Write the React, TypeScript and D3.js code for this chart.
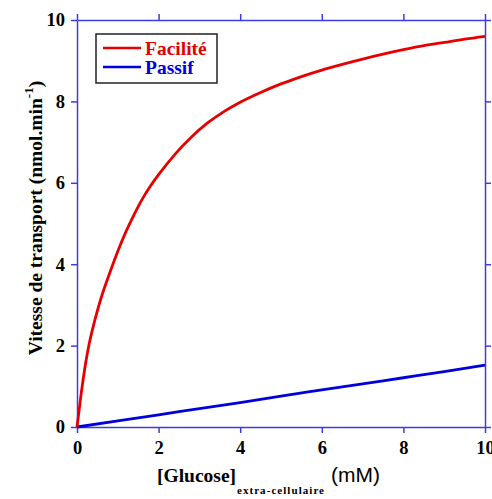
import React, { useEffect, useRef } from 'react'
import * as d3 from 'd3'

// Facilité (red) curve
const faciliteX = [0, 0.1, 0.2, 0.3, 0.4, 0.5, 0.6, 0.8, 1.0, 1.2, 1.4, 1.6, 1.8, 2.0, 2.4, 2.8, 3.2, 3.6, 4.0, 4.5, 5.0, 5.5, 6.0, 6.5, 7.0, 7.5, 8.0, 8.5, 9.0, 9.5, 10]
const faciliteY = [0, 0.8, 1.5, 2.05, 2.48, 2.86, 3.2, 3.78, 4.32, 4.8, 5.22, 5.6, 5.92, 6.2, 6.7, 7.12, 7.47, 7.75, 7.98, 8.22, 8.43, 8.61, 8.77, 8.91, 9.04, 9.16, 9.27, 9.37, 9.45, 9.53, 9.6]

// Passif (blue) line
const passifX = [0, 1, 2, 3, 4, 5, 6, 7, 8, 9, 10]
const passifY = [0, 0.15, 0.3, 0.45, 0.6, 0.76, 0.91, 1.06, 1.21, 1.36, 1.52]

const xTicks = [0, 2, 4, 6, 8, 10]
const yTicks = [0, 2, 4, 6, 8, 10]

const legendLabels = ['Facilité', 'Passif']
const seriesColors = ['#e60000', '#0000dd']

const width = 492
const height = 499
const margin = { top: 20, right: 7, bottom: 72, left: 77 }
const axisColor = '#3c3ce6'
const serif = '"Liberation Serif", "Times New Roman", serif'

const App = () => {
  const ref = useRef(null)

  const x = d3.scaleLinear().domain([0, 10]).range([margin.left, width - margin.right])
  const y = d3.scaleLinear().domain([0, 10]).range([height - margin.bottom, margin.top])

  useEffect(() => {
    const svg = d3.select(ref.current)
    svg.selectAll('*').remove()

    const styleAxis = g => {
      g.selectAll('.domain').attr('stroke', axisColor).attr('stroke-width', 1.5)
      g.selectAll('.tick line').attr('stroke', axisColor).attr('stroke-width', 1.5)
      g.selectAll('.tick text')
        .attr('fill', '#000')
        .attr('font-family', serif)
        .attr('font-weight', 'bold')
        .attr('font-size', 18.5)
    }

    svg.append('g')
      .attr('transform', `translate(0,${y(0)})`)
      .call(d3.axisBottom(x).tickValues(xTicks).tickSize(6).tickPadding(8).tickSizeOuter(0))
      .call(styleAxis)

    svg.append('g')
      .attr('transform', `translate(0,${y(10)})`)
      .call(d3.axisTop(x).tickValues(xTicks).tickSize(6).tickFormat(() => '').tickSizeOuter(0))
      .call(styleAxis)

    svg.append('g')
      .attr('transform', `translate(${x(0)},0)`)
      .call(d3.axisLeft(y).tickValues(yTicks).tickSize(6).tickPadding(6).tickSizeOuter(0))
      .call(styleAxis)

    svg.append('g')
      .attr('transform', `translate(${x(10)},0)`)
      .call(d3.axisRight(y).tickValues(yTicks).tickSize(6).tickFormat(() => '').tickSizeOuter(0))
      .call(styleAxis)

    const line = d3.line().x(d => x(d[0])).y(d => y(d[1])).curve(d3.curveMonotoneX)

    const series = [
      d3.zip(passifX, passifY),
      d3.zip(faciliteX, faciliteY)
    ]
    const colors = [seriesColors[1], seriesColors[0]]

    svg.append('g')
      .selectAll('path')
      .data(series)
      .join('path')
      .attr('d', d => line(d))
      .attr('fill', 'none')
      .attr('stroke', (d, i) => colors[i])
      .attr('stroke-width', 2.8)

    // legend
    const lg = svg.append('g').attr('transform', 'translate(96,34)')
    lg.append('rect')
      .attr('width', 121)
      .attr('height', 49)
      .attr('fill', '#fff')
      .attr('stroke', '#222')
      .attr('stroke-width', 1.5)
    legendLabels.forEach((label, i) => {
      const ly = 14 + i * 19
      lg.append('line')
        .attr('x1', 7).attr('x2', 45)
        .attr('y1', ly).attr('y2', ly)
        .attr('stroke', seriesColors[i])
        .attr('stroke-width', 2.5)
      lg.append('text')
        .attr('x', 49)
        .attr('y', ly + 6.5)
        .attr('fill', seriesColors[i])
        .attr('font-family', serif)
        .attr('font-weight', 'bold')
        .attr('font-size', 19.5)
        .text(label)
    })

    // y label
    const yl = svg.append('text')
      .attr('transform', 'translate(42,218) rotate(-90)')
      .attr('text-anchor', 'middle')
      .attr('font-family', serif)
      .attr('font-weight', 'bold')
      .attr('font-size', 19.5)
      .attr('fill', '#000')
    yl.append('tspan').text('Vitesse de transport (nmol.min')
    yl.append('tspan').attr('dy', -9).attr('font-size', 13).text('-1')
    yl.append('tspan').attr('dy', 9).text(')')

    // x label
    svg.append('text')
      .attr('x', 157).attr('y', 482)
      .attr('font-family', serif)
      .attr('font-weight', 'bold')
      .attr('font-size', 19.5)
      .attr('fill', '#000')
      .text('[Glucose]')
    svg.append('text')
      .attr('x', 237).attr('y', 494)
      .attr('font-family', serif)
      .attr('font-weight', 'bold')
      .attr('font-size', 11)
      .attr('textLength', 87)
      .attr('fill', '#000')
      .text('extra-cellulaire')
    svg.append('text')
      .attr('x', 331).attr('y', 482)
      .attr('font-family', '"Liberation Sans", Arial, sans-serif')
      .attr('font-size', 21)
      .attr('fill', '#000')
      .text('(mM)')
  }, [x, y])

  return (
    <svg
      ref={ref}
      width={width}
      height={height}
      style={{ position: 'absolute', left: 0, top: 0, background: '#fff' }}
    />
  )
}

export default App
